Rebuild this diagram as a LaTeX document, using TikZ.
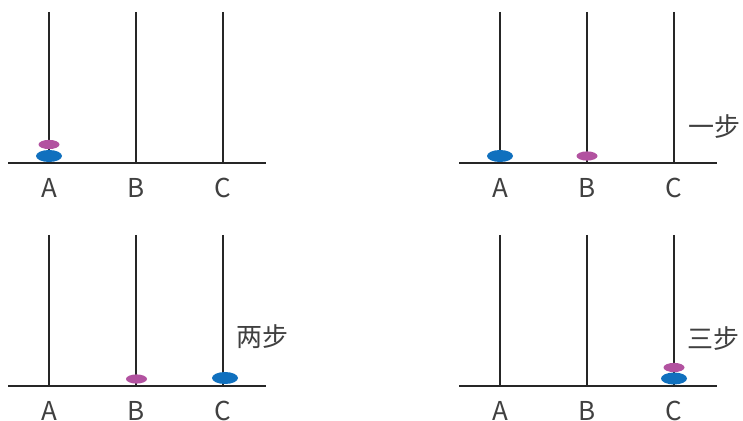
\documentclass[tikz,border=0pt]{standalone}
\usepackage{fontspec}
\setmainfont{Noto Sans CJK SC}
\usetikzlibrary{shapes.geometric}
\definecolor{diskblue}{RGB}{16,112,190}
\definecolor{diskpurple}{RGB}{178,82,160}

\tikzset{
    base/.style={line width=1.1pt, black!85},
    pole/.style={line width=0.55pt, black!85},
    bigdisk/.style={ellipse, fill=diskblue, inner sep=0pt, minimum width=13pt, minimum height=6pt},
    smalldisk/.style={ellipse, fill=diskpurple, inner sep=0pt, minimum width=10.5pt, minimum height=4.6pt},
    peg/.style={font=\fontsize{13}{15}\selectfont, black!75},
    steplabel/.style={font=\fontsize{13}{15}\selectfont, black!75}
}

\begin{document}
\begin{tikzpicture}[x=0.5pt, y=-0.5pt]
    \useasboundingbox (0, 0) rectangle (743, 421);

    % four boards: base line, three poles, peg names
    \foreach \dx/\dy/\p in {0/0/a, 451/0/b, 0/223/c, 451/223/d} {
        \draw[base] (8+\dx, 163+\dy) -- (266+\dx, 163+\dy);
        \foreach \x/\name in {49/A, 136/B, 223/C} {
            \draw[pole] (\x+\dx, 12+\dy) -- (\x+\dx, 163+\dy);
            \node[peg] (\p\name) at (\x+\dx, 188+\dy) {\name};
        }
    }

    % start
    \node[bigdisk] (big1) at (49, 156) {};
    \node[smalldisk] (small1) at (49, 144.5) {};

    % one step
    \node[bigdisk] (big2) at (500, 156) {};
    \node[smalldisk] (small2) at (587, 156) {};
    \node[steplabel] (step1) at (714, 127) {一步};

    % two steps
    \node[smalldisk] (small3) at (136.5, 379) {};
    \node[bigdisk] (big3) at (225, 378) {};
    \node[steplabel] (step2) at (262, 337) {两步};

    % three steps
    \node[bigdisk] (big4) at (674, 378.5) {};
    \node[smalldisk] (small4) at (674, 367.5) {};
    \node[steplabel] (step3) at (713, 339) {三步};
\end{tikzpicture}
\end{document}
